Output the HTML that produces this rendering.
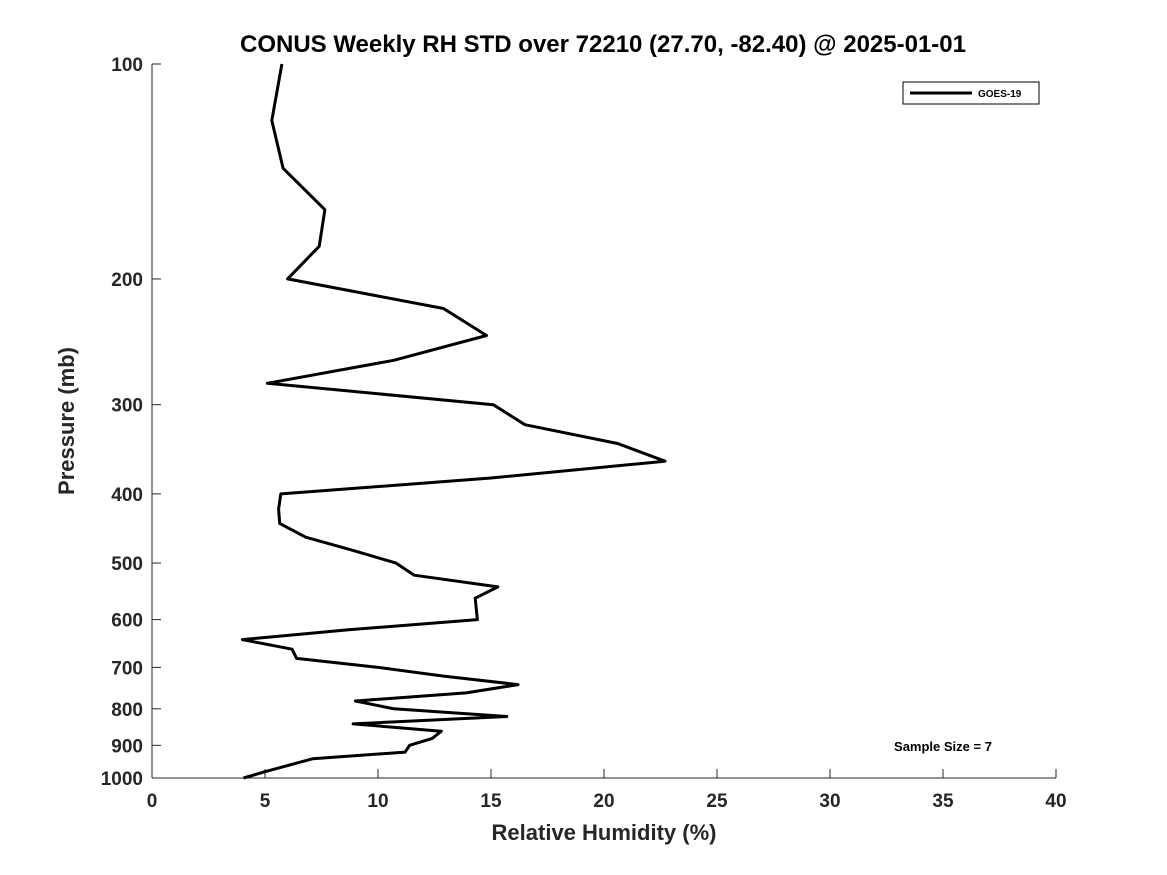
<!DOCTYPE html>
<html><head><meta charset="utf-8"><style>
body{margin:0;background:#fff}
svg{display:block;font-family:"Liberation Sans",sans-serif;font-weight:bold}
</style></head><body>
<svg width="1167" height="875">
<text x="603" y="52" text-anchor="middle" font-size="24" fill="#000">CONUS Weekly RH STD over 72210 (27.70, -82.40) @ 2025-01-01</text>
<g id="axes"></g>
<path id="line" fill="none" stroke="#000" stroke-width="3" stroke-linejoin="round"/>
<g>
<rect x="903" y="82" width="136" height="22" fill="#fff" stroke="#000" stroke-width="1"/>
<line x1="910" y1="93" x2="972" y2="93" stroke="#000" stroke-width="3"/>
<text x="978" y="97" font-size="10">GOES-19</text>
</g>
<text x="943" y="751" text-anchor="middle" font-size="13">Sample Size = 7</text>
<text x="604" y="840" text-anchor="middle" font-size="22" fill="#262626">Relative Humidity (%)</text>
<text x="0" y="0" transform="translate(74,421) rotate(-90)" text-anchor="middle" font-size="22" fill="#262626">Pressure (mb)</text>
</svg>
<script>
const pressures=[100,120,140,160,180,200,220,240,260,280,300,320,340,360,380,400,420,440,460,480,500,520,540,560,580,600,620,640,660,680,700,720,740,760,780,800,820,840,860,880,900,920,940,980,1000];
const rhValues=[5.75,5.3,5.8,7.65,7.4,6.0,12.9,14.8,10.7,5.1,15.1,16.5,20.6,22.7,15.0,5.7,5.6,5.65,6.8,8.9,10.8,11.6,15.3,14.3,14.35,14.4,8.7,4.0,6.2,6.4,10.0,12.9,16.2,13.9,9.0,10.7,15.7,8.9,12.8,12.4,11.4,11.2,7.1,5.0,4.05];
const xTicks=[0,5,10,15,20,25,30,35,40];
const yTicks=[100,200,300,400,500,600,700,800,900,1000];
const X0=152,X1=1056,Y0=64,Y1=778;
const xs=v=>X0+(v-0)/40*(X1-X0);
const ys=p=>Y0+Math.log10(p/100)*(Y1-Y0);
const NS="http://www.w3.org/2000/svg";
const ax=document.getElementById('axes');
function mk(t,a){const e=document.createElementNS(NS,t);for(const k in a)e.setAttribute(k,a[k]);return e;}
let l=mk('line',{x1:X0,y1:Y0,x2:X0,y2:Y1,stroke:'#262626','stroke-width':1});


ax.appendChild(l);
l=mk('line',{x1:X0,y1:Y1,x2:X1,y2:Y1,stroke:'#262626','stroke-width':1});


ax.appendChild(l);
xTicks.forEach(v=>{
 const x=xs(v);
 ax.appendChild(mk('line',{x1:x,y1:Y1,x2:x,y2:Y1-9,stroke:'#262626'}));
 const t=mk('text',{x:x,y:807,'text-anchor':'middle','font-size':19,fill:'#262626'});
 t.textContent=v;
 
 
 ax.appendChild(t);
});
yTicks.forEach(p=>{
 const y=ys(p);
 ax.appendChild(mk('line',{x1:X0,y1:y,x2:X0+9,y2:y,stroke:'#262626'}));
 const t=mk('text',{x:143,y:y+7,'text-anchor':'end','font-size':19,fill:'#262626'});
 t.textContent=p;
 
 
 ax.appendChild(t);
});
document.getElementById('line').setAttribute('d',pressures.map((p,i)=>(i?'L':'M')+xs(rhValues[i]).toFixed(1)+','+ys(p).toFixed(1)).join(''));
</script>
</body></html>
